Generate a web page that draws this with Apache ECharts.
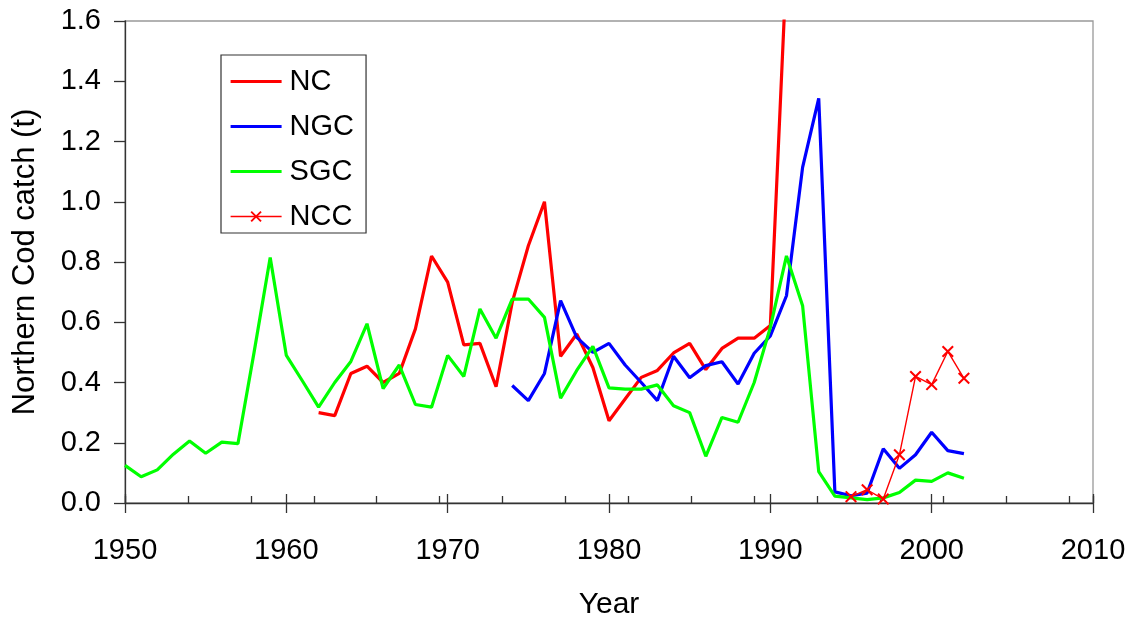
<!DOCTYPE html>
<html>
<head>
<meta charset="utf-8">
<script src="https://cdn.jsdelivr.net/npm/echarts@6/dist/echarts.min.js"></script>
<style>
html,body{margin:0;padding:0;background:#fff;}
#chart{width:1137px;height:618px;}
</style>
</head>
<body>
<div id="chart"></div>
<script>
const years = [1950,1951,1952,1953,1954,1955,1956,1957,1958,1959,
  1960,1961,1962,1963,1964,1965,1966,1967,1968,1969,
  1970,1971,1972,1973,1974,1975,1976,1977,1978,1979,
  1980,1981,1982,1983,1984,1985,1986,1987,1988,1989,
  1990,1991,1992,1993,1994,1995,1996,1997,1998,1999,
  2000,2001,2002];

const ncValues = [null,null,null,null,null,null,null,null,null,null,
  null,null,0.30,0.29,0.43,0.454,0.40,0.43,0.578,0.82,
  0.733,0.525,0.53,0.386,0.666,0.854,1.0,0.487,0.561,0.45,
  0.273,0.345,0.417,0.44,0.498,0.53,0.443,0.513,0.547,0.547,
  0.589,1.78,null,null,null,null,null,null,null,null,
  null,null,null];

const ngcValues = [null,null,null,null,null,null,null,null,null,null,
  null,null,null,null,null,null,null,null,null,null,
  null,null,null,null,0.39,0.34,0.43,0.672,0.55,0.50,
  0.53,0.458,0.40,0.34,0.487,0.416,0.456,0.469,0.395,0.497,
  0.555,0.688,1.114,1.343,0.037,0.024,0.033,0.18,0.115,0.16,
  0.235,0.174,0.164];

const sgcValues = [0.125,0.087,0.11,0.162,0.206,0.165,0.202,0.197,0.50,0.815,
  0.49,0.405,0.318,0.40,0.47,0.595,0.38,0.458,0.327,0.318,
  0.49,0.42,0.644,0.547,0.677,0.677,0.616,0.348,0.44,0.52,
  0.382,0.378,0.378,0.392,0.323,0.30,0.155,0.284,0.268,0.40,
  0.583,0.82,0.655,0.104,0.023,0.017,0.011,0.017,0.035,0.076,
  0.072,0.10,0.082];

const nccValues = [null,null,null,null,null,null,null,null,null,null,
  null,null,null,null,null,null,null,null,null,null,
  null,null,null,null,null,null,null,null,null,null,
  null,null,null,null,null,null,null,null,null,null,
  null,null,null,null,null,0.021,0.044,0.013,0.16,0.42,
  0.393,0.503,0.414];

const seriesNames = ['NC','NGC','SGC','NCC'];
const yTicks = {min:0, max:1.6, interval:0.2};
const xTicks = {min:1950, max:2010, interval:10, minorInterval:3.9};

function pairs(vals){ return years.map((y,i)=>[y, vals[i]]); }

const FONT = 'Liberation Sans, Arial, sans-serif';
const gridRect = {left:125, right:44, top:21, bottom:115};
const xMark = 'path://M0,1.2L1.2,0L5,3.8L8.8,0L10,1.2L6.2,5L10,8.8L8.8,10L5,6.2L1.2,10L0,8.8L3.8,5Z';
const hiddenSymbol = {opacity:0, color:'rgba(0,0,0,0)', borderWidth:0};

const chart = echarts.init(document.getElementById('chart'), null, {renderer:'canvas'});
chart.setOption({
  animation:false,
  backgroundColor:'#fff',
  grid:[
    Object.assign({show:true, borderColor:'#999', borderWidth:1.3, containLabel:false, outerBoundsMode:'none'}, gridRect),
    Object.assign({show:false, containLabel:false, outerBoundsMode:'none'}, gridRect),
    Object.assign({show:false, containLabel:false, outerBoundsMode:'none'}, gridRect)
  ],
  legend:{
    orient:'vertical', left:221, top:55,
    padding:[12,12,2,8],
    itemWidth:51, itemHeight:14, itemGap:16,
    backgroundColor:'#fff',
    borderColor:'#333', borderWidth:1.2, borderRadius:0,
    textStyle:{fontFamily:FONT, fontSize:29, color:'#000', padding:[0,0,0,3]},
    data:[
      {name:seriesNames[0], itemStyle:hiddenSymbol, lineStyle:{width:3.2}},
      {name:seriesNames[1], itemStyle:hiddenSymbol, lineStyle:{width:3.2}},
      {name:seriesNames[2], itemStyle:hiddenSymbol, lineStyle:{width:3.2}},
      {name:seriesNames[3], lineStyle:{width:1.5}}
    ]
  },
  xAxis:[
    {gridIndex:0, type:'value', min:xTicks.min, max:xTicks.max, interval:xTicks.interval,
     name:'Year', nameLocation:'middle', nameGap:87,
     nameTextStyle:{fontFamily:FONT, fontSize:30, color:'#000'},
     axisLine:{show:true, lineStyle:{color:'#333', width:1.3}},
     axisTick:{show:true, inside:false, length:10, lineStyle:{color:'#333', width:1.3}},
     axisLabel:{fontFamily:FONT, fontSize:29, color:'#000', margin:33,
       formatter:v=>String(v)},
     splitLine:{show:false}},
    {gridIndex:1, type:'value', min:xTicks.min, max:xTicks.max, interval:xTicks.interval,
     axisLine:{show:false},
     axisTick:{show:true, inside:true, length:9, lineStyle:{color:'#333', width:1.3}},
     axisLabel:{show:false}, splitLine:{show:false}},
    {gridIndex:2, type:'value', min:xTicks.min, max:xTicks.max, interval:xTicks.minorInterval,
     axisLine:{show:false},
     axisTick:{show:true, inside:true, length:7, lineStyle:{color:'#333', width:1.3}},
     axisLabel:{show:false}, splitLine:{show:false}}
  ],
  yAxis:[
    {gridIndex:0, type:'value', min:yTicks.min, max:yTicks.max, interval:yTicks.interval,
     name:'Northern Cod catch (t)', nameLocation:'middle', nameGap:84,
     nameTextStyle:{fontFamily:FONT, fontSize:31, color:'#000'},
     axisLine:{show:true, lineStyle:{color:'#333', width:1.3}},
     axisTick:{show:true, inside:false, length:11, lineStyle:{color:'#333', width:1.3}},
     axisLabel:{fontFamily:FONT, fontSize:29, color:'#000', margin:24,
       formatter:v=>v.toFixed(1)},
     splitLine:{show:false}},
    {gridIndex:1, type:'value', min:yTicks.min, max:yTicks.max, show:false},
    {gridIndex:2, type:'value', min:yTicks.min, max:yTicks.max, show:false}
  ],
  series:[
    {name:'NC', type:'line', data:pairs(ncValues), symbol:'none', connectNulls:false, clip:true,
     color:'#FF0000', lineStyle:{color:'#FF0000', width:3.2}},
    {name:'NGC', type:'line', data:pairs(ngcValues), symbol:'none', connectNulls:false, clip:true,
     color:'#0000FF', lineStyle:{color:'#0000FF', width:3.2}},
    {name:'SGC', type:'line', data:pairs(sgcValues), symbol:'none', connectNulls:false, clip:true,
     color:'#00FF00', lineStyle:{color:'#00FF00', width:3.2}},
    {name:'NCC', type:'line', data:pairs(nccValues), symbol:xMark, symbolSize:12, showSymbol:true,
     connectNulls:false, clip:true,
     color:'#FF0000', itemStyle:{color:'#FF0000'}, lineStyle:{color:'#FF0000', width:1.4}}
  ]
});
</script>
</body>
</html>
